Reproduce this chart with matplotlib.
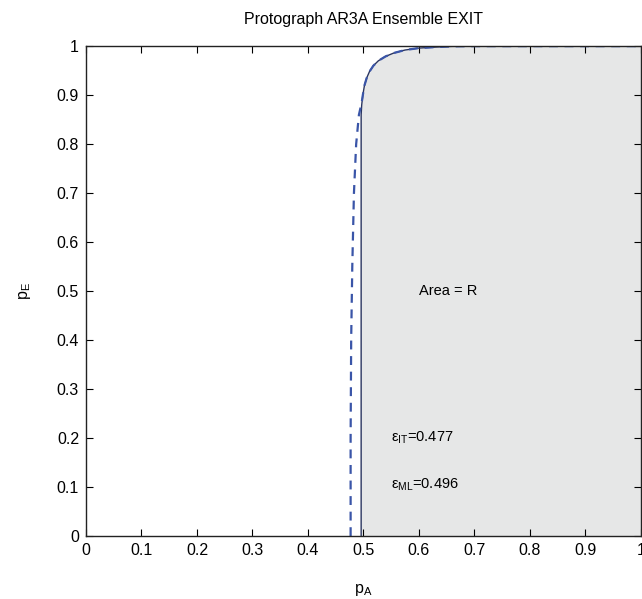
import numpy as np
import matplotlib
matplotlib.use('Agg')
from matplotlib import pyplot as plt
from matplotlib.ticker import FuncFormatter

plt.rcParams['font.family'] = ['Liberation Sans', 'DejaVu Sans']
plt.rcParams['mathtext.default'] = 'regular'

# EXIT curves (p_A, p_E)
ml_pa = [0.496, 0.496, 0.497, 0.499, 0.502, 0.506, 0.511, 0.518, 0.527, 0.540,
         0.555, 0.575, 0.600, 0.630, 0.660, 0.700, 1.000]
ml_pe = [0.000, 0.860, 0.880, 0.900, 0.920, 0.935, 0.948, 0.960, 0.970, 0.979,
         0.986, 0.992, 0.996, 0.998, 0.9995, 1.000, 1.000]

bp_pa = [0.477, 0.477, 0.478, 0.480, 0.483, 0.487, 0.492, 0.497, 0.499, 0.502,
         0.506, 0.511, 0.518, 0.527, 0.540, 0.555, 0.575, 0.600, 0.630, 0.660,
         0.700, 1.000]
bp_pe = [0.000, 0.200, 0.400, 0.550, 0.700, 0.800, 0.860, 0.885, 0.900, 0.920,
         0.935, 0.948, 0.960, 0.970, 0.979, 0.986, 0.992, 0.996, 0.998, 0.9995,
         1.000, 1.000]

eps_it = 0.477
eps_ml = 0.496
ticks = [0, 0.1, 0.2, 0.3, 0.4, 0.5, 0.6, 0.7, 0.8, 0.9, 1]

fig = plt.figure(figsize=(6.42, 5.99), dpi=100)
ax = fig.add_axes([0.134, 0.105, 0.864, 0.818])

# shaded area to the right of the ML curve
ax.fill_betweenx(ml_pe, ml_pa, 1, color='#e6e7e7', lw=0)
ax.plot(ml_pa, ml_pe, color='#2a3560', lw=1.0)
ax.plot(bp_pa, bp_pe, color='#3a55a8', lw=1.6, dashes=(4, 3))

ax.text(0.6, 0.5, 'Area = R', fontsize=10.5, va='center', ha='left')
ax.text(0.55, 0.2, '$ε_{IT}$=%.3f' % eps_it, fontsize=10.5, va='center')
ax.text(0.55, 0.104, '$ε_{ML}$=%.3f' % eps_ml, fontsize=10.5, va='center')

ax.set_xlim(0, 1)
ax.set_ylim(0, 1)
ax.set_xticks(ticks)
ax.set_yticks(ticks)
fmt = FuncFormatter(lambda v, p: '%g' % v)
ax.xaxis.set_major_formatter(fmt)
ax.yaxis.set_major_formatter(fmt)
ax.tick_params(direction='in', top=True, right=True, labelsize=11.5, length=5, pad=5)
for s in ax.spines.values():
    s.set_linewidth(1.0)
    s.set_color('#222222')

ax.set_title('Protograph AR3A Ensemble EXIT', fontsize=11.5, pad=16)
ax.set_xlabel('$p_A$', fontsize=11.5, labelpad=17)
ax.set_ylabel('$p_E$', fontsize=11.5, labelpad=17)

fig.savefig('out.png', dpi=100)
